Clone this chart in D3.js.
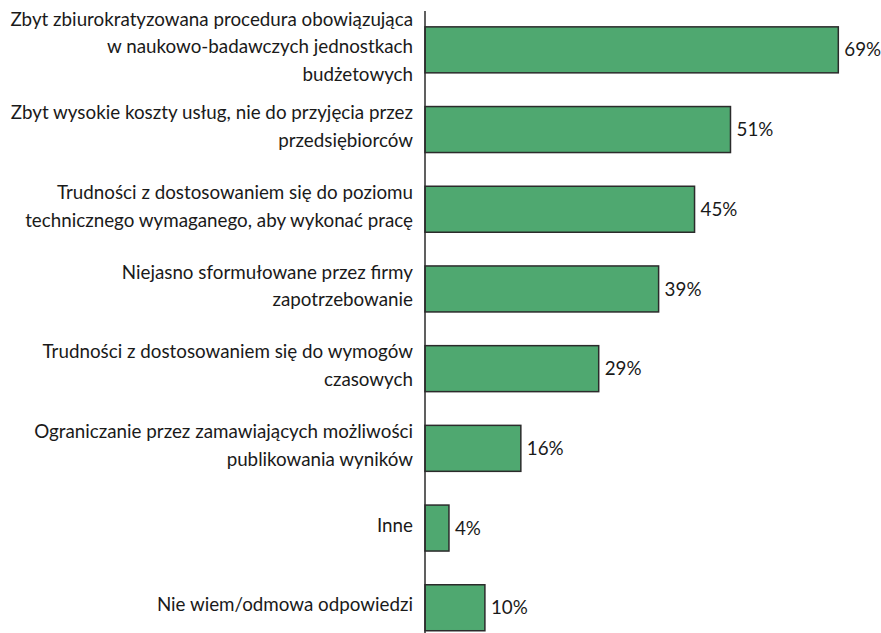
<!DOCTYPE html>
<html>
<head>
<meta charset="utf-8">
<script src="https://cdn.jsdelivr.net/npm/d3@7"></script>
<style>
  html, body { margin: 0; padding: 0; background: #fff; }
  svg { display: block; }
  text { font-family: Lato, "Open Sans", sans-serif; fill: #1a1a1a; }
</style>
</head>
<body>
<svg id="chart" width="881" height="633"></svg>
<script>
// Survey answers: each label as its wrapped lines, plus the share in percent
const categories = [
  ["Zbyt zbiurokratyzowana procedura obowiązująca", "w naukowo-badawczych jednostkach", "budżetowych"],
  ["Zbyt wysokie koszty usług, nie do przyjęcia przez", "przedsiębiorców"],
  ["Trudności z dostosowaniem się do poziomu", "technicznego wymaganego, aby wykonać pracę"],
  ["Niejasno sformułowane przez firmy", "zapotrzebowanie"],
  ["Trudności z dostosowaniem się do wymogów", "czasowych"],
  ["Ograniczanie przez zamawiających możliwości", "publikowania wyników"],
  ["Inne"],
  ["Nie wiem/odmowa odpowiedzi"]
];
const values = [69, 51, 45, 39, 29, 16, 4, 10];
const valueLabels = ["69%", "51%", "45%", "39%", "29%", "16%", "4%", "10%"];

const svg = d3.select("#chart");
const axisX = 425;

const x = d3.scaleLinear().domain([0, 100]).range([axisX, axisX + 599]);
const y = d3.scaleBand()
  .domain(d3.range(values.length))
  .range([10, 647.6])
  .paddingInner(0.423)
  .paddingOuter(0.2115);

const fontSize = 18.8;
const lineH = 27.5;

// bars
svg.append("g").selectAll("rect")
  .data(values)
  .join("rect")
  .attr("x", x(0))
  .attr("y", (d, i) => y(i))
  .attr("width", d => x(d) - x(0))
  .attr("height", y.bandwidth())
  .attr("fill", "#4fa870")
  .attr("stroke", "#2b2b2b")
  .attr("stroke-width", 1.5);

// vertical category axis line
svg.append("line")
  .attr("x1", axisX).attr("x2", axisX)
  .attr("y1", 11).attr("y2", 633)
  .attr("stroke", "#2b2b2b")
  .attr("stroke-width", 1.5);

// category labels, right-aligned and centred on each bar
const labels = svg.append("g").selectAll("text")
  .data(categories)
  .join("text")
  .attr("text-anchor", "end")
  .attr("font-size", fontSize);
labels.each(function (lines, i) {
  const cy = y(i) + y.bandwidth() / 2 - 3;
  const startY = cy - (lines.length - 1) * lineH / 2;
  d3.select(this).selectAll("tspan")
    .data(lines)
    .join("tspan")
    .attr("x", axisX - 12)
    .attr("y", (d, k) => startY + k * lineH)
    .attr("dy", "0.35em")
    .text(d => d);
});

// value labels
svg.append("g").selectAll("text")
  .data(values)
  .join("text")
  .attr("x", d => x(d) + 6)
  .attr("y", (d, i) => y(i) + y.bandwidth() / 2)
  .attr("dy", "0.35em")
  .attr("font-size", fontSize)
  .text((d, i) => valueLabels[i]);
</script>
</body>
</html>
